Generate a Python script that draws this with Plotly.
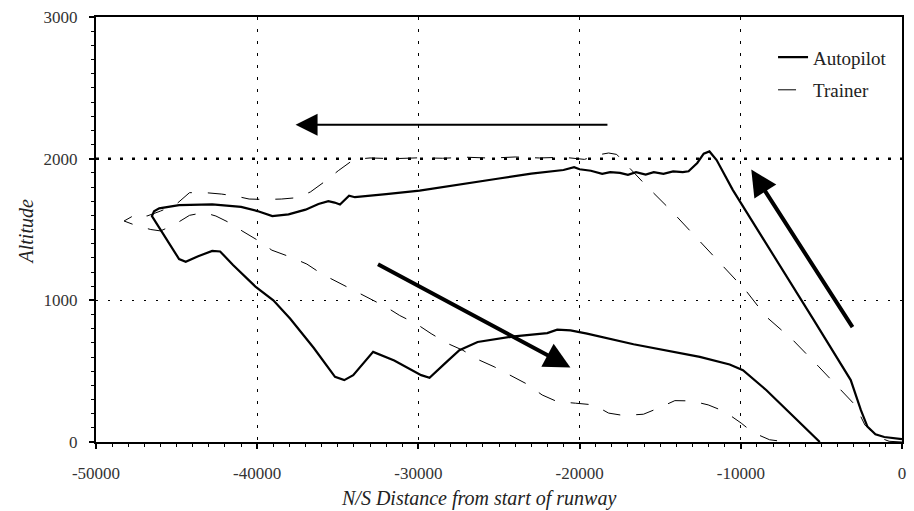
import plotly.graph_objects as go

# ---------------- data ----------------
auto_x = [0, -500, -1100, -1650, -2150, -2550, -3180, -5460, -8000, -10500,
          -11500, -11944, -12300, -12700, -13241, -13600, -14200, -14800, -15400,
          -15900, -16500, -17000, -17500, -18100, -18600, -19300, -20000, -20340,
          -21000, -23000, -25000, -27000, -29926, -32000, -33938, -34300, -34864,
          -35200, -35586, -36200, -37000, -38056, -39062, -39988, -41000, -42790,
          -44000, -44846, -46080, -46400, -46530, -45667, -44846, -44434, -43700,
          -42790, -42300, -41500, -40110, -39000, -37950, -36500, -35173, -34600,
          -34043, -32809, -31500, -29827, -29309, -28300, -27457, -26327, -24062,
          -22006, -21389, -20566, -19537, -16654, -12543, -10691, -9866, -8426,
          -5235, -5100]
auto_alt = [20, 25, 35, 55, 110, 225, 437, 858, 1323, 1780,
            1990, 2051, 2035, 1970, 1911, 1905, 1910, 1893, 1905,
            1888, 1905, 1886, 1900, 1905, 1893, 1915, 1925, 1940,
            1920, 1895, 1860, 1825, 1775, 1750, 1728, 1738, 1677,
            1690, 1700, 1680, 1640, 1607, 1595, 1630, 1660, 1677,
            1676, 1672, 1649, 1628, 1595, 1439, 1291, 1272, 1310,
            1349, 1345, 1250, 1097, 1000, 870, 665, 460, 437,
            472, 636, 575, 472, 453, 560, 648, 706, 746,
            769, 793, 788, 765, 690, 601, 547, 507, 367,
            16, 0]

trainer_x = [0, -800, -1600, -2300, -2900, -3600, -5150, -6770, -8430, -9660,
             -11200, -12750, -14290, -15830, -17270, -17700, -18200, -18700, -19700,
             -21000, -22500, -24000, -25500, -27000, -28500, -30000, -31500, -33000,
             -34000, -34970, -35790, -36700, -37500, -38500, -39500, -40500, -41300,
             -42200, -43200, -44200, -45040, -46000, -46840, -47400, -48260, -47440,
             -46600, -46000, -45200, -44200, -43300, -42560, -41530, -40940, -39910,
             -39090, -37850, -36920, -35990, -34970, -34040, -33010, -31990, -31160,
             -30140, -29210, -28180, -27250, -26220, -25300, -24270, -23350, -22320,
             -21390, -20260, -19120, -18200, -17270, -16040, -15110, -14090, -13055,
             -12025, -11000, -9970, -9250, -8220, -7500]
trainer_alt = [0, 5, 40, 120, 260, 345, 530, 720, 885, 1065,
               1255, 1445, 1630, 1805, 1980, 2030, 2040, 2030, 1995,
               2010, 2005, 2012, 2004, 2010, 2003, 2006, 2000, 2005,
               1995, 1915, 1840, 1765, 1725, 1715, 1712, 1715, 1735,
               1750, 1760, 1760, 1677, 1630, 1595, 1615, 1560, 1525,
               1500, 1490, 1530, 1600, 1620, 1595, 1537, 1490, 1420,
               1354, 1302, 1256, 1186, 1127, 1069, 1010, 952, 893,
               835, 765, 695, 648, 578, 531, 472, 414, 332,
               285, 274, 262, 204, 187, 196, 239, 292, 290,
               262, 215, 133, 67, 16, 5]

x_ticks = [-50000, -40000, -30000, -20000, -10000, 0]
y_ticks = [0, 1000, 2000, 3000]

# direction arrows: tail -> head, in data units
arrow_tail_x = [-18180, -32600, -3010]
arrow_tail_alt = [2240, 1260, 800]
arrow_head_x = [-37620, -20570, -9350]
arrow_head_alt = [2240, 526, 1923]
arrow_widths = [2, 4, 4]
arrow_sizes = [2.2, 1.3, 1.3]

FONT = "Liberation Serif"

fig = go.Figure()
fig.add_trace(go.Scatter(x=auto_x, y=auto_alt, mode="lines", name="Autopilot",
                         legendgroup="a",
                         line=dict(color="black", width=2.2)))
fig.add_trace(go.Scatter(x=trainer_x, y=trainer_alt, mode="lines", name="Trainer",
                         legendgroup="t",
                         line=dict(color="black", width=1, dash="18px,16px")))

# heavier dotted line at 2000
fig.add_shape(type="line", xref="paper", yref="y", x0=0, x1=1, y0=2000, y1=2000,
              line=dict(color="black", width=2.5, dash="3px,9px"), layer="below")

for tx, ty, hx, hy, w, s in zip(arrow_tail_x, arrow_tail_alt, arrow_head_x,
                                arrow_head_alt, arrow_widths, arrow_sizes):
    fig.add_annotation(x=hx, y=hy, ax=tx, ay=ty, xref="x", yref="y",
                       axref="x", ayref="y", text="", showarrow=True,
                       arrowhead=2, arrowwidth=w, arrowsize=s,
                       arrowcolor="black", standoff=0)

fig.add_annotation(text="<i>N/S Distance from start of runway</i>",
                   xref="paper", yref="paper",
                   x=0.475, y=-0.133, xanchor="center", yanchor="middle",
                   showarrow=False, font=dict(family=FONT, size=20, color="#222"))
fig.add_annotation(text="<i>Altitude</i>", xref="paper", yref="paper",
                   x=-0.087, y=0.495, xanchor="center", yanchor="middle",
                   textangle=-90, showarrow=False,
                   font=dict(family=FONT, size=20, color="#222"))

fig.update_xaxes(range=[-50000, 0], tickvals=x_ticks,
                 ticktext=[str(v) for v in x_ticks],
                 showgrid=True, gridcolor="black", gridwidth=1, griddash="3px,9px",
                 zeroline=False, showline=True, linecolor="black", linewidth=2,
                 mirror=True, ticks="outside", ticklen=5, tickwidth=2, tickcolor="black",
                 ticklabelstandoff=10,
                 minor=dict(dtick=1000, ticks="outside", ticklen=3, tickwidth=1,
                            tickcolor="black", showgrid=False),
                 tickfont=dict(family=FONT, size=17, color="#333"))
fig.update_yaxes(range=[0, 3000], tickvals=y_ticks,
                 ticktext=[str(v) for v in y_ticks],
                 showgrid=True, gridcolor="black", gridwidth=1, griddash="2px,10px",
                 zeroline=False, showline=True, linecolor="black", linewidth=2,
                 mirror=True, ticks="outside", ticklen=5, tickwidth=2, tickcolor="black",
                 ticklabelstandoff=8,
                 minor=dict(dtick=100, ticks="outside", ticklen=3, tickwidth=1,
                            tickcolor="black", showgrid=False),
                 tickfont=dict(family=FONT, size=17, color="#333"))

fig.update_layout(
    width=914, height=511,
    margin=dict(l=96, r=8, t=15, b=69),
    paper_bgcolor="white", plot_bgcolor="white",
    showlegend=True,
    legend=dict(x=0.84, xanchor="left", y=0.95, yanchor="top",
                bgcolor="rgba(0,0,0,0)", borderwidth=0, tracegroupgap=5,
                font=dict(family=FONT, size=19, color="#222")),
    font=dict(family=FONT),
)

fig.write_html("out.html", config={"displayModeBar": False},
               post_script="document.body.style.margin='0';")
